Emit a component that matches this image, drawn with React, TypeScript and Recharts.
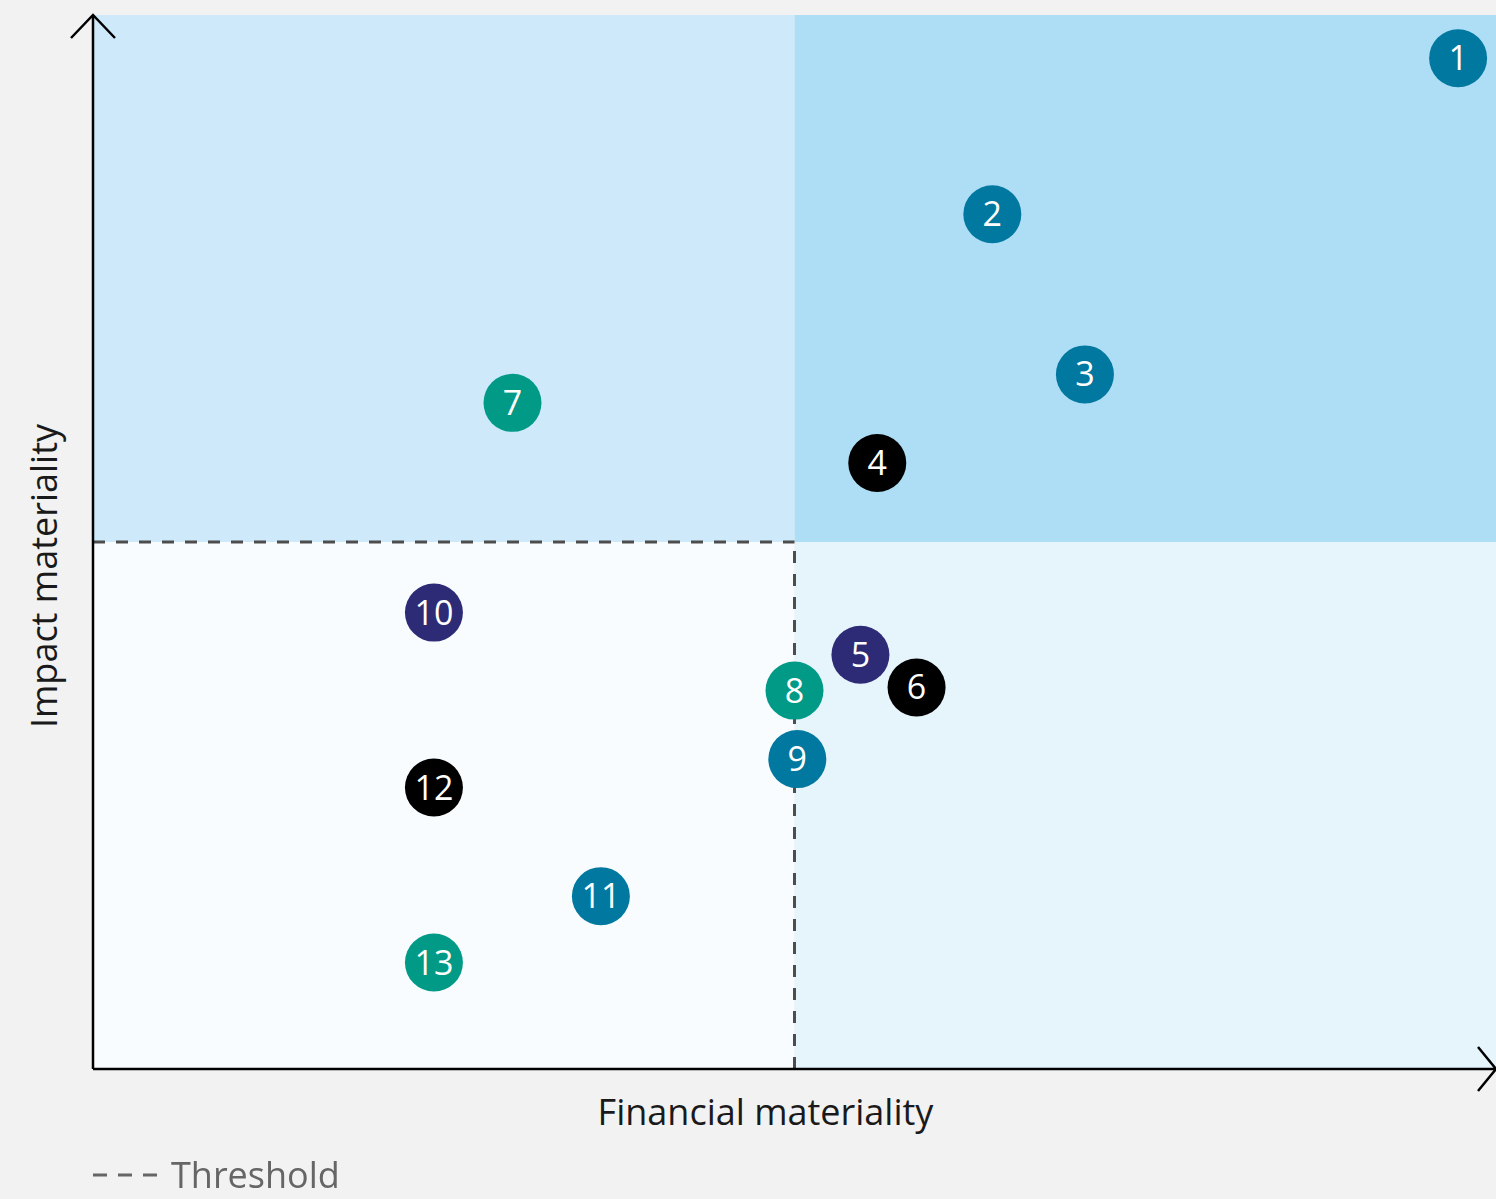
import {
  ScatterChart,
  XAxis,
  YAxis,
  Scatter,
  ReferenceArea,
  ReferenceLine,
  ReferenceDot,
} from "recharts";

// topic ids and positions on the 0-10 materiality grid
const ids = [1, 2, 3, 4, 5, 6, 7, 8, 9, 10, 11, 12, 13];
const financial = [9.73, 6.41, 7.07, 5.59, 5.47, 5.87, 2.99, 5.0, 5.02, 2.43, 3.62, 2.43, 2.43];
const impact = [9.59, 8.11, 6.59, 5.75, 3.93, 3.62, 6.32, 3.59, 2.94, 4.33, 1.64, 2.67, 1.01];
const groups = ["blue", "blue", "blue", "black", "purple", "black", "teal", "teal", "blue", "purple", "blue", "black", "teal"];

const THRESHOLD = 5;

const COLORS: Record<string, string> = {
  blue: "#00789f",
  teal: "#009a86",
  purple: "#2d2a76",
  black: "#000000",
};

const FONT = "'Open Sans', 'Noto Sans', sans-serif";

const points = ids.map((id, i) => ({
  id,
  x: financial[i],
  y: impact[i],
  fill: COLORS[groups[i]],
}));

// circle + number
const Bubble = (props: any) => {
  const { cx, cy, payload } = props;
  if (cx == null || cy == null) return null;
  return (
    <g>
      <circle cx={cx} cy={cy} r={29} fill={payload.fill} />
      <text
        x={cx}
        y={cy}
        dy={12}
        textAnchor="middle"
        fill="#fff"
        fontSize={34}
        fontFamily={FONT}
      >
        {payload.id}
      </text>
    </g>
  );
};

const UpArrow = ({ cx, cy }: any) => (
  <path
    d={`M${cx - 22},${cy + 23} L${cx},${cy} L${cx + 22},${cy + 23}`}
    fill="none"
    stroke="#000"
    strokeWidth={2.5}
  />
);

const RightArrow = ({ cx, cy }: any) => (
  <path
    d={`M${cx - 18},${cy - 22} L${cx},${cy} L${cx - 18},${cy + 22}`}
    fill="none"
    stroke="#000"
    strokeWidth={2.5}
  />
);

export default function App() {
  return (
    <div
      style={{
        position: "fixed",
        left: 0,
        top: 0,
        width: 1496,
        height: 1199,
        background: "#f2f2f2",
        fontFamily: FONT,
      }}
    >
      <ScatterChart
        width={1496}
        height={1199}
        margin={{ top: 15, right: 0, bottom: 70, left: 33 }}
      >
        <ReferenceArea x1={0} x2={THRESHOLD} y1={THRESHOLD} y2={10} fill="#cde9fa" fillOpacity={1} stroke="none" />
        <ReferenceArea x1={THRESHOLD} x2={10} y1={THRESHOLD} y2={10} fill="#addef5" fillOpacity={1} stroke="none" />
        <ReferenceArea x1={0} x2={THRESHOLD} y1={0} y2={THRESHOLD} fill="#f9fcfe" fillOpacity={1} stroke="none" />
        <ReferenceArea x1={THRESHOLD} x2={10} y1={0} y2={THRESHOLD} fill="#e6f4fc" fillOpacity={1} stroke="none" />
        <XAxis
          type="number"
          dataKey="x"
          domain={[0, 10]}
          height={60}
          tick={false}
          tickLine={false}
          axisLine={{ stroke: "#000", strokeWidth: 2.5 }}
          label={({ viewBox }: any) => (
            <text
              x={viewBox.x + viewBox.width / 2 - 29}
              y={viewBox.y + 56}
              textAnchor="middle"
              fontSize={36}
              fill="#1a1a1a"
              fontFamily={FONT}
            >
              Financial materiality
            </text>
          )}
        />
        <YAxis
          type="number"
          dataKey="y"
          domain={[0, 10]}
          width={60}
          tick={false}
          tickLine={false}
          axisLine={{ stroke: "#000", strokeWidth: 2.5 }}
          label={({ viewBox }: any) => {
            const cx = viewBox.x + 24;
            const cy = viewBox.y + viewBox.height / 2 + 34;
            return (
              <text
                x={cx}
                y={cy}
                transform={`rotate(-90 ${cx} ${cy})`}
                textAnchor="middle"
                fontSize={36}
                fill="#1a1a1a"
                fontFamily={FONT}
              >
                Impact materiality
              </text>
            );
          }}
        />
        <ReferenceLine
          segment={[{ x: 0, y: THRESHOLD }, { x: THRESHOLD, y: THRESHOLD }]}
          stroke="#4d4d4d"
          strokeWidth={3}
          strokeDasharray="12 11"
        />
        <ReferenceLine
          segment={[{ x: THRESHOLD, y: 0 }, { x: THRESHOLD, y: THRESHOLD }]}
          stroke="#4d4d4d"
          strokeWidth={3}
          strokeDasharray="12 11"
        />
        <ReferenceDot x={0} y={10} ifOverflow="visible" shape={UpArrow} />
        <ReferenceDot x={10} y={0} ifOverflow="visible" shape={RightArrow} />
        <Scatter data={points} shape={Bubble} isAnimationActive={false} />
      </ScatterChart>
      <div
        style={{
          position: "absolute",
          left: 93,
          top: 1150,
          height: 50,
          display: "flex",
          alignItems: "center",
          color: "#666",
          fontSize: 36,
          lineHeight: "50px",
          fontFamily: FONT,
        }}
      >
        <svg width={66} height={10} style={{ marginRight: 12 }}>
          <line x1={0} y1={5} x2={66} y2={5} stroke="#666" strokeWidth={3} strokeDasharray="14 11" />
        </svg>
        <span>Threshold</span>
      </div>
    </div>
  );
}
